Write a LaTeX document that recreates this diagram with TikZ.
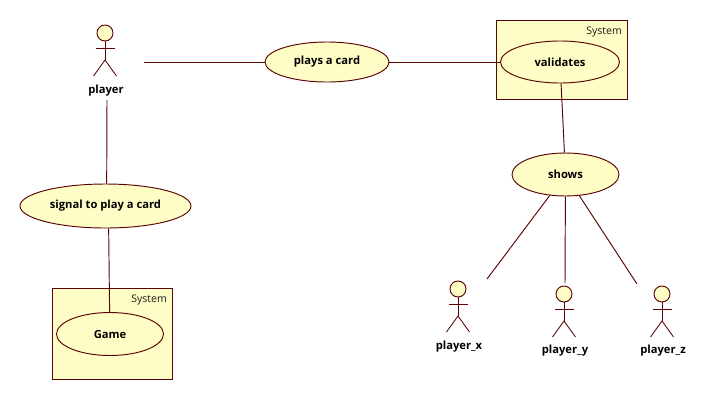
\documentclass[tikz,border=0pt]{standalone}
\usepackage{fontspec}
\setmainfont{Open Sans}
\usetikzlibrary{shapes.geometric}
\definecolor{umlline}{HTML}{5A0505}
\definecolor{umlfill}{HTML}{FFFDC6}
\tikzset{
  x=1pt,y=-1pt,
  usecase/.style={ellipse,draw=umlline,fill=umlfill,line width=.95pt,inner sep=0pt,font=\fontsize{11.2}{12}\selectfont\bfseries,text=black},
  sysbox/.style={rectangle,draw=umlline,fill=umlfill,line width=1pt,inner sep=0pt},
  syslabel/.style={font=\fontsize{10.5}{12}\selectfont,text=black!90,anchor=east,inner sep=0pt},
  actorlabel/.style={font=\fontsize{11.2}{12}\selectfont\bfseries,text=black,inner sep=0pt},
  head/.style={circle,draw=umlline,fill=umlfill,line width=.95pt,minimum size=16pt,inner sep=0pt},
  conn/.style={draw=umlline,line width=.95pt},
  limb/.style={draw=umlline,line width=.85pt},
  actor/.pic={
    \node[head] (-h) at (0,0) {};
    \draw[limb] (-h.south) -- (0,27);
    \draw[limb] (-9.5,15) -- (9.5,15);
    \draw[limb] (-11.5,43) -- (0,27) -- (11.5,43);
  }
}
\begin{document}
\begin{tikzpicture}
\useasboundingbox (0,0) rectangle (725,400);
\node[sysbox,minimum width=131pt,minimum height=79pt] (sysr) at (561.5,59.5) {};
\node[syslabel] (sysrl) at (622,32) {System};
\node[sysbox,minimum width=120pt,minimum height=91pt] (sysl) at (112,333.5) {};
\node[syslabel] (sysll) at (167,300) {System};
\node[usecase,minimum width=124pt,minimum height=40pt] (plays) at (327,62) {\raisebox{-1.6pt}{plays a card}};
\node[usecase,minimum width=119pt,minimum height=42pt] (validates) at (560,62) {\raisebox{-1.6pt}{validates}};
\node[usecase,minimum width=107pt,minimum height=43pt] (shows) at (565.5,174.5) {\raisebox{-1.6pt}{shows}};
\node[usecase,minimum width=171pt,minimum height=44pt] (signal) at (105.5,206) {\raisebox{-1.6pt}{signal to play a card}};
\node[usecase,minimum width=107pt,minimum height=43pt] (game) at (110,334) {\raisebox{-1.6pt}{Game}};
\pic (pa) at (105,33) {actor};
\pic (xa) at (458,289) {actor};
\pic (ya) at (564,294) {actor};
\pic (za) at (662,294) {actor};
\node[actorlabel] (pl) at (106,91) {player};
\node[actorlabel] (xl) at (459,347) {player\_x};
\node[actorlabel] (yl) at (565,351) {player\_y};
\node[actorlabel] (zl) at (663,351) {player\_z};
\coordinate (pr) at (144,62);
\coordinate (pb) at (107,100);
\coordinate (xe) at (487,279);
\coordinate (ye) at (565,283);
\coordinate (ze) at (637,284);
\draw[conn] (pr) -- (plays);
\draw[conn] (plays) -- (validates);
\draw[conn] (validates) -- (shows);
\draw[conn] (shows) -- (xe);
\draw[conn] (shows) -- (ye);
\draw[conn] (shows) -- (ze);
\draw[conn] (pb) -- (signal.87);
\draw[conn] (signal.-82) -- (game.91);
\end{tikzpicture}
\end{document}
